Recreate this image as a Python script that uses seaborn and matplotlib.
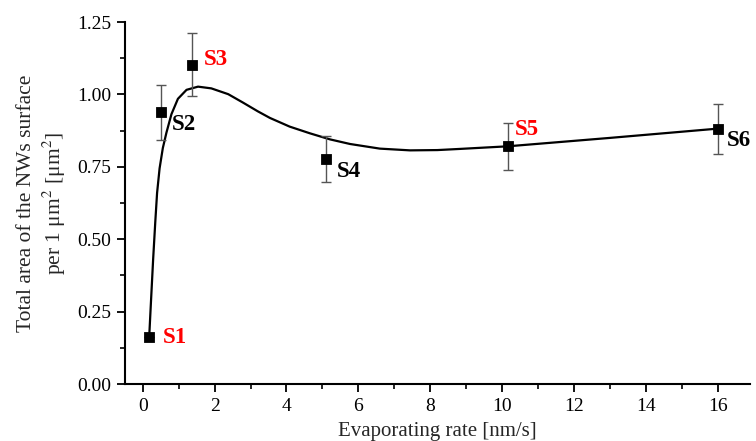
import matplotlib
matplotlib.use("Agg")
import matplotlib.pyplot as plt
import seaborn as sns
import pandas as pd
from matplotlib.ticker import MultipleLocator

# ---- data ----
samples = ["S1", "S2", "S3", "S4", "S5", "S6"]
rate = [0.18, 0.52, 1.36, 5.10, 10.16, 16.0]
area = [0.161, 0.938, 1.103, 0.777, 0.821, 0.882]
err_up = [0.0, 0.093, 0.108, 0.078, 0.080, 0.086]
err_dn = [0.0, 0.094, 0.110, 0.078, 0.081, 0.088]
label_colors = ["red", "black", "red", "black", "red", "black"]

# fitted curve, points
curve_x = [0.18, 0.22, 0.29, 0.35, 0.40, 0.47, 0.56, 0.66, 0.80, 0.98, 1.22, 1.54,
           1.91, 2.38, 2.79, 3.20, 3.54, 4.09, 4.65, 5.21, 5.77, 6.60, 7.44, 8.20,
           8.83, 10.16, 13.0, 16.0]
curve_y = [0.161, 0.26, 0.43, 0.56, 0.66, 0.745, 0.815, 0.868, 0.932, 0.985, 1.016, 1.027,
           1.021, 1.001, 0.972, 0.942, 0.919, 0.889, 0.866, 0.845, 0.829, 0.813, 0.807, 0.808,
           0.812, 0.821, 0.850, 0.882]

# label offsets (pixels) relative to the markers
lab_dx = [14, 10, 12, 11, 7, 9]
lab_dy = [0, -12, 5, -12, 17, -12]

sns.set_theme(style="ticks")
plt.rcParams["font.family"] = ["Liberation Serif", "DejaVu Serif"]
plt.rcParams["mathtext.fontset"] = "stix"

fig = plt.figure(figsize=(7.56, 4.41), dpi=100)
ax = fig.add_axes([0.165, 0.129, 0.827, 0.821])

df_pts = pd.DataFrame({"rate": rate, "area": area, "sample": samples})
df_curve = pd.DataFrame({"x": curve_x, "y": curve_y})

sns.lineplot(data=df_curve, x="x", y="y", ax=ax, color="black", linewidth=1.6,
             sort=False, estimator=None)
ax.errorbar(rate, area, yerr=[err_dn, err_up], fmt="none", ecolor="#555555",
            elinewidth=1.0, capsize=3.5, capthick=1.0, zorder=3)
sns.scatterplot(data=df_pts, x="rate", y="area", ax=ax, marker="s", s=55,
                color="black", edgecolor="black", zorder=4)

for i, s in enumerate(samples):
    ax.annotate(s, (rate[i], area[i]), xytext=(lab_dx[i] * 0.72, lab_dy[i] * 0.72),
                textcoords="offset points", ha="left", va="center",
                fontsize=16.5, fontweight="bold", color=label_colors[i])

ax.set_xlim(-0.5, 16.9)
ax.set_ylim(0, 1.25)
ax.xaxis.set_major_locator(MultipleLocator(2))
ax.xaxis.set_minor_locator(MultipleLocator(1))
ax.yaxis.set_major_locator(MultipleLocator(0.25))
ax.yaxis.set_minor_locator(MultipleLocator(0.125))
ax.yaxis.set_major_formatter(matplotlib.ticker.FormatStrFormatter("%.2f"))

for side in ["top", "right"]:
    ax.spines[side].set_visible(False)
for side in ["left", "bottom"]:
    ax.spines[side].set_linewidth(1.5)
    ax.spines[side].set_color("black")

ax.tick_params(axis="both", which="major", direction="out", length=6, width=1.3,
               labelsize=14, colors="black", pad=4)
ax.tick_params(axis="both", which="minor", direction="out", length=3.5, width=1.2,
               colors="black")

ax.set_xlabel("Evaporating rate [nm/s]", fontsize=15, labelpad=5)
ax.set_ylabel("Total area of the NWs surface\nper 1 μm$^2$ [μm$^2$]", fontsize=15.5,
              labelpad=6, linespacing=1.25)

fig.savefig("out.png", dpi=100)
